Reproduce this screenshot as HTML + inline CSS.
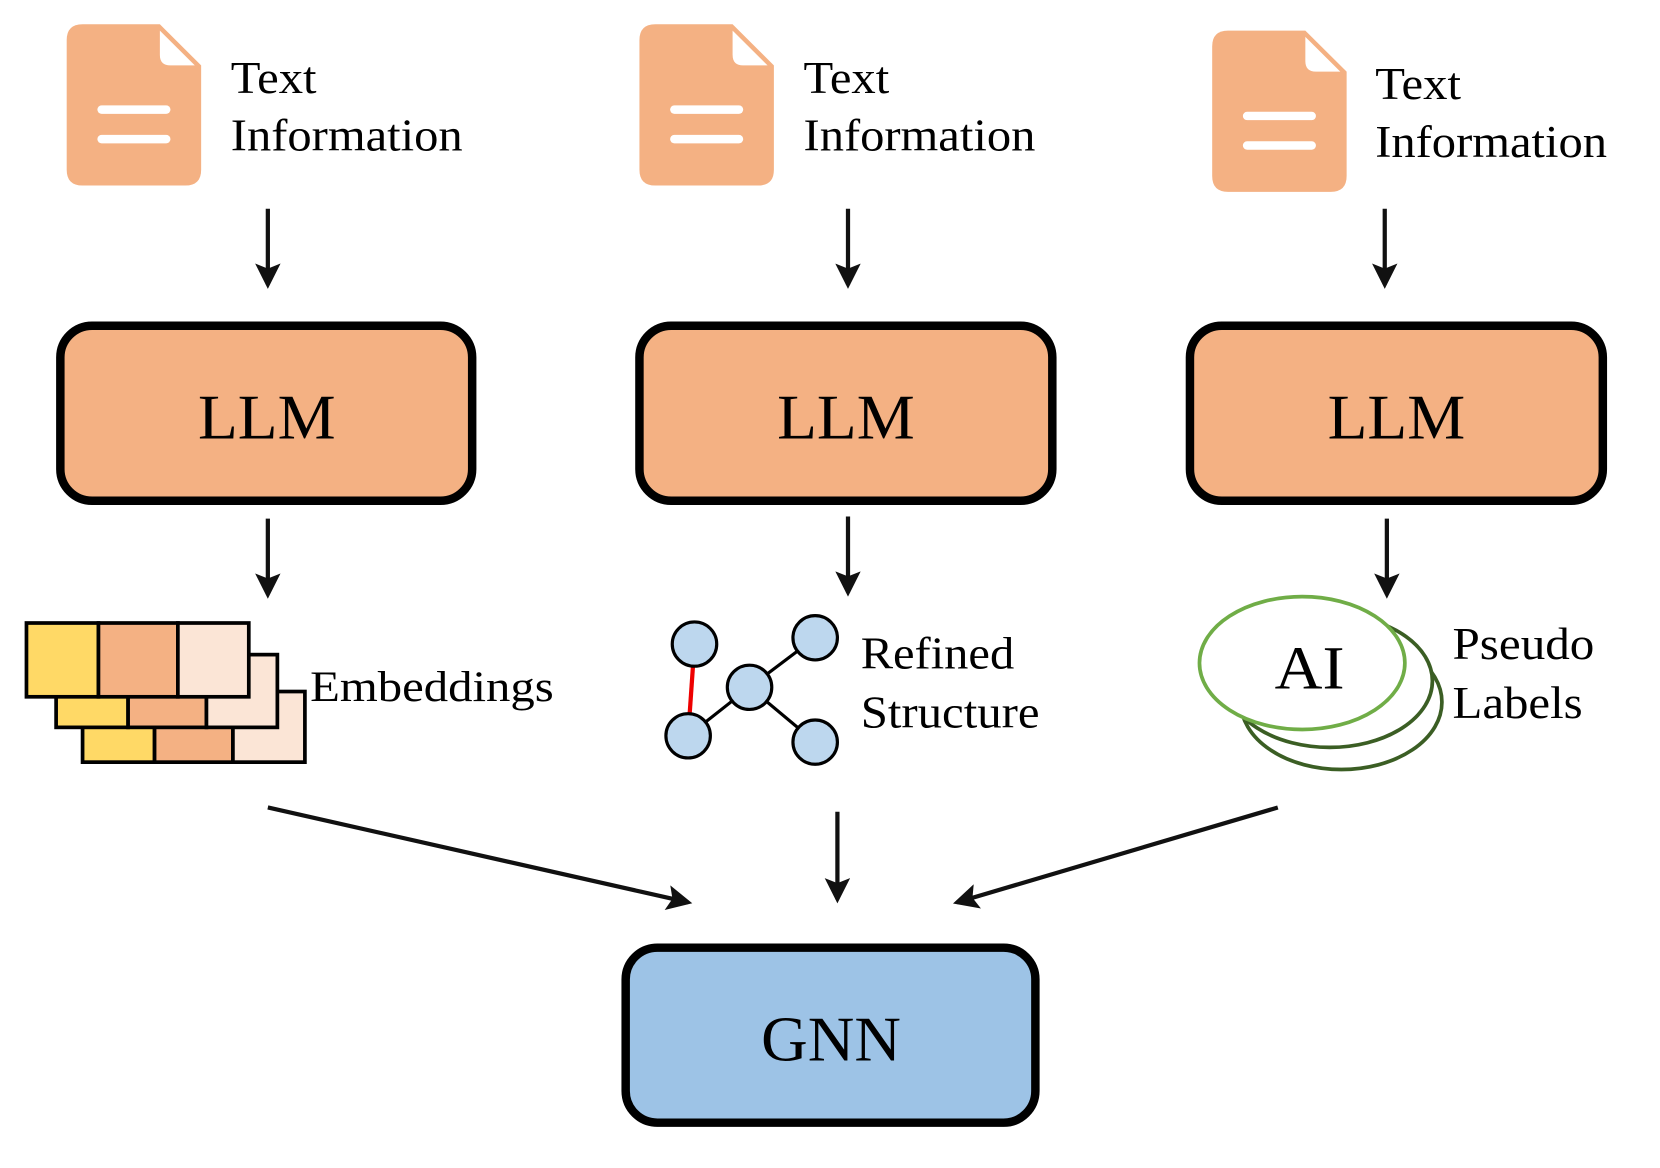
<!DOCTYPE html>
<html><head><meta charset="utf-8"><style>
html,body{margin:0;padding:0;background:#fff;}
svg{display:block;}
text{font-family:"Liberation Serif",serif;fill:#000;}
</style></head><body>
<svg width="1660" height="1168" viewBox="0 0 1568 1108" preserveAspectRatio="none" xmlns="http://www.w3.org/2000/svg">
<defs>
<marker id="ah" markerWidth="6" markerHeight="6" refX="5" refY="3" orient="auto" markerUnits="strokeWidth">
<path d="M0,0 L6,3 L0,6 L1.2,3 Z" fill="#111"/></marker>
<g id="doc">
<path d="M15,0 H88 L127,39 V138 Q127,153 112,153 H15 Q0,153 0,138 V15 Q0,0 15,0 Z" fill="#F4B183"/>
<path d="M88,6 L121,39 H98 Q88,39 88,29 Z" fill="#fff"/>
<rect x="29" y="77" width="69" height="8" rx="4" fill="#fff"/>
<rect x="29" y="105" width="69" height="8" rx="4" fill="#fff"/>
</g>
</defs>
<use href="#doc" x="63" y="23"/>
<use href="#doc" x="604" y="23"/>
<use href="#doc" x="1145" y="29"/>
<g font-size="43">
<text x="218" y="88" textLength="81" lengthAdjust="spacingAndGlyphs">Text</text><text x="218" y="143" textLength="219" lengthAdjust="spacingAndGlyphs">Information</text>
<text x="759" y="88" textLength="81" lengthAdjust="spacingAndGlyphs">Text</text><text x="759" y="143" textLength="219" lengthAdjust="spacingAndGlyphs">Information</text>
<text x="1299" y="94" textLength="81" lengthAdjust="spacingAndGlyphs">Text</text><text x="1299" y="149" textLength="219" lengthAdjust="spacingAndGlyphs">Information</text>
</g>
<g stroke="#111" stroke-width="4" marker-end="url(#ah)">
<line x1="253" y1="198" x2="253" y2="270"/>
<line x1="801" y1="198" x2="801" y2="270"/>
<line x1="1308" y1="198" x2="1308" y2="270"/>
<line x1="253" y1="492" x2="253" y2="564"/>
<line x1="801" y1="490" x2="801" y2="562"/>
<line x1="1310" y1="492" x2="1310" y2="564"/>
<line x1="253" y1="766" x2="650" y2="856"/>
<line x1="791" y1="770" x2="791" y2="853"/>
<line x1="1207" y1="766" x2="904" y2="856"/>
</g>
<g stroke="#000" stroke-width="8" fill="#F4B183">
<rect x="57" y="309" width="389" height="166" rx="30"/>
<rect x="604" y="309" width="390" height="166" rx="30"/>
<rect x="1124" y="309" width="390" height="166" rx="30"/>
<rect x="591" y="899" width="387" height="166" rx="30" fill="#9DC3E6"/>
</g>
<g font-size="60" text-anchor="middle">
<text x="252" y="416" textLength="130" lengthAdjust="spacingAndGlyphs">LLM</text>
<text x="799" y="416" textLength="130" lengthAdjust="spacingAndGlyphs">LLM</text>
<text x="1319" y="416" textLength="130" lengthAdjust="spacingAndGlyphs">LLM</text>
<text x="785" y="1006" textLength="132" lengthAdjust="spacingAndGlyphs">GNN</text>
</g>
<g stroke="#000" stroke-width="3.5">
<rect x="78" y="656" width="68" height="67" fill="#FFD966"/><rect x="146" y="656" width="74" height="67" fill="#F4B183"/><rect x="220" y="656" width="68" height="67" fill="#FBE5D6"/>
<rect x="53" y="621" width="68" height="69" fill="#FFD966"/><rect x="121" y="621" width="74" height="69" fill="#F4B183"/><rect x="195" y="621" width="67" height="69" fill="#FBE5D6"/>
<rect x="25" y="591" width="68" height="70" fill="#FFD966"/><rect x="93" y="591" width="75" height="70" fill="#F4B183"/><rect x="168" y="591" width="67" height="70" fill="#FBE5D6"/>
</g>
<text x="293" y="665" font-size="41" textLength="230" lengthAdjust="spacingAndGlyphs">Embeddings</text>
<g stroke="#000" stroke-width="3">
<line x1="708" y1="652" x2="770" y2="605"/><line x1="708" y1="652" x2="650" y2="698"/><line x1="708" y1="652" x2="770" y2="704"/>
<line x1="656" y1="611" x2="650" y2="698" stroke="#E00" stroke-width="4"/>
<g fill="#BDD7EE"><circle cx="656" cy="611" r="21"/><circle cx="770" cy="605" r="21"/><circle cx="708" cy="652" r="21"/><circle cx="650" cy="698" r="21"/><circle cx="770" cy="704" r="21"/></g>
</g>
<g font-size="43"><text x="813" y="634" textLength="145" lengthAdjust="spacingAndGlyphs">Refined</text><text x="813" y="690" textLength="169" lengthAdjust="spacingAndGlyphs">Structure</text>
<text x="1372" y="625" textLength="134" lengthAdjust="spacingAndGlyphs">Pseudo</text><text x="1372" y="681" textLength="123" lengthAdjust="spacingAndGlyphs">Labels</text></g>
<g stroke-width="3.5">
<ellipse cx="1267" cy="666" rx="95" ry="64" fill="#fff" stroke="#3B5E24"/>
<ellipse cx="1256" cy="646" rx="97" ry="63" fill="#fff" stroke="#3B5E24"/>
<ellipse cx="1230" cy="629" rx="97" ry="63" fill="#fff" stroke="#70AD47"/>
</g>
<text x="1237" y="653" font-size="58" text-anchor="middle" textLength="66" lengthAdjust="spacingAndGlyphs">AI</text>
</svg>
</body></html>
